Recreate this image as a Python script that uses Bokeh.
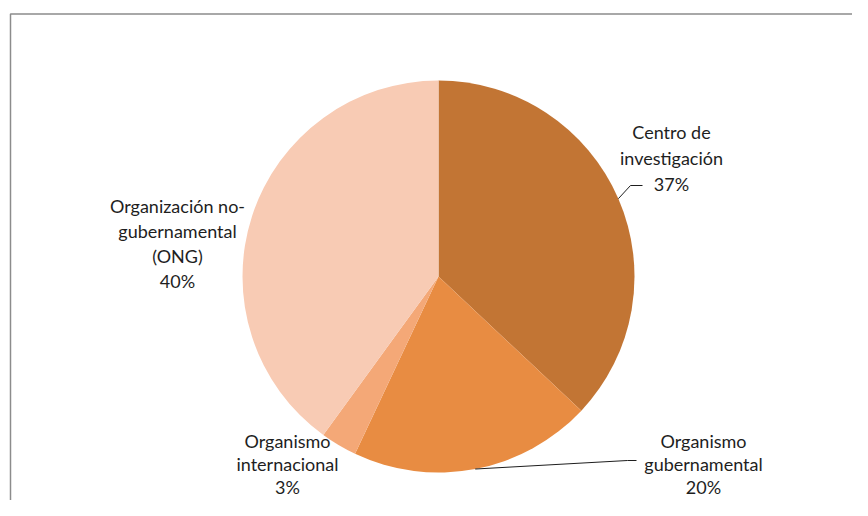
import math
from bokeh.plotting import figure
from bokeh.models import Range1d, ColumnDataSource
from bokeh.core.properties import value
from bokeh.embed import file_html
from bokeh.resources import INLINE

# Data
categories = ["Centro de\ninvestigación", "Organismo\ngubernamental",
              "Organismo\ninternacional", "Organización no-\ngubernamental\n(ONG)"]
percent = [37, 20, 3, 40]
colors = ["#C27534", "#E88C42", "#F4A877", "#F8CBB4"]

W, H = 852, 500
TOP = 516  # data y = TOP - picture y
p = figure(width=W, height=H, output_backend="svg", toolbar_location=None,
           x_range=Range1d(0, W), y_range=Range1d(TOP - H, TOP),
           min_border=0, outline_line_color=None)
p.axis.visible = False
p.grid.visible = False
p.background_fill_color = "white"
p.border_fill_color = "white"

# frame lines (chart area border, cut by window)
p.line([10, 10, 870], [-10, TOP - 13.5, TOP - 13.5], line_color="#8C8C8C", line_width=1.5)

cx, cy, r = 438, TOP - 276, 196
total = sum(percent)
starts, ends, mids = [], [], []
cum = 0
for v in percent:
    a0 = math.pi / 2 - 2 * math.pi * cum / total
    cum += v
    a1 = math.pi / 2 - 2 * math.pi * cum / total
    starts.append(a0)
    ends.append(a1)
    mids.append((a0 + a1) / 2)

src = ColumnDataSource(dict(start=starts, end=ends, color=colors))
p.wedge(x=cx, y=cy, radius=r, start_angle="start", end_angle="end",
        direction="clock", fill_color="color", line_color=None, source=src)

# labels: (center x, first line y in picture px, line height)
label_pos = [(671, 131, 26), (703, 440, 23), (287, 440, 23), (177, 205, 25)]
font = value("Lato")
for cat, v, (lx, ly, lh) in zip(categories, percent, label_pos):
    lines = cat.split("\n") + [f"{v}%"]
    n = len(lines)
    ys = [TOP - (ly + i * lh) for i in range(n)]
    p.text(x=[lx] * n, y=ys, text=lines, text_align="center", text_baseline="middle",
           text_font=font, text_font_size="18px", text_color="#1E1E1E")

# leader lines
def edge(i):
    return cx + r * math.cos(mids[i]), cy + r * math.sin(mids[i])

ex, ey = edge(0)
p.line([ex, 630, 642], [ey, TOP - 185, TOP - 185], line_color="#1E1E1E", line_width=1)
ex, ey = edge(1)
p.line([ex, 627, 636], [ey, TOP - 460, TOP - 460], line_color="#1E1E1E", line_width=1)

open("out.html", "w").write(file_html(p, INLINE))
